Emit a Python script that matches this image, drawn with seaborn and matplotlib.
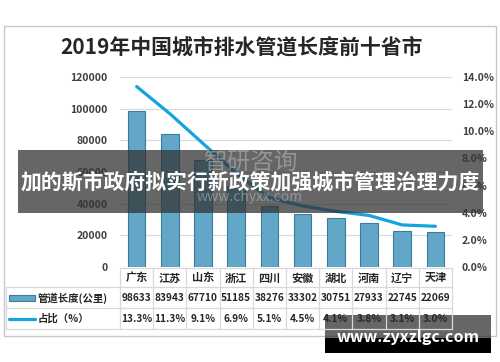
import matplotlib
matplotlib.use("Agg")
import matplotlib.pyplot as plt
import matplotlib.transforms as mtransforms
from matplotlib.lines import Line2D
from matplotlib.patches import Rectangle
import seaborn as sns

# --- Data ---
provinces = ['广东', '江苏', '山东', '浙江', '四川', '安徽', '湖北', '河南', '辽宁', '天津']
pipe_length = [98633, 83943, 67710, 51185, 38276, 33302, 30751, 27933, 22745, 22069]
share_pct = [13.3, 11.3, 9.1, 6.9, 5.1, 4.5, 4.1, 3.8, 3.1, 3.0]
left_ticks = [0, 20000, 40000, 60000, 80000, 100000, 120000]
right_ticks = [0, 2, 4, 6, 8, 10, 12, 14]

TITLE = '2019年中国城市排水管道长度前十省市'
BANNER = '加的斯市政府拟实行新政策加强城市管理治理力度'
SITE = 'www.zyxzlgc.com'

# --- Style ---
W, H = 500, 362
BAR_COLOR = '#62a6c8'
BAR_EDGE = '#3d7d9c'
LINE_COLOR = '#13a4de'
GRID = '#d9d9d9'
TXT = '#404040'

sns.set_theme(style='white')
plt.rcParams['font.family'] = ['Noto Sans CJK SC', 'DejaVu Sans']


def fx(px):
    return px / W


def fy(py):
    return 1 - py / H


fig = plt.figure(figsize=(W / 100, H / 100), dpi=100)
fig.patch.set_facecolor('white')

# outer frame
fig.add_artist(Rectangle((fx(4), fy(336)), fx(492), (336 - 26) / H, transform=fig.transFigure,
                         fill=False, edgecolor='#c8c8c8', lw=1.0))

ax = fig.add_axes([fx(120), fy(267), fx(332), (267 - 77) / H])
sns.barplot(x=list(range(len(provinces))), y=pipe_length, color=BAR_COLOR, width=0.53,
            edgecolor=BAR_EDGE, linewidth=0.8, saturation=1, ax=ax)
ax.set_xlim(-0.5, len(provinces) - 0.5)
ax.set_ylim(0, 120000)
ax.set_yticks(left_ticks)
ax.set_yticklabels([str(v) for v in left_ticks], fontsize=7.5, color=TXT, fontweight='bold')
ax.set_xticks([])
ax.set_xlabel('')
ax.set_ylabel('')
ax.yaxis.grid(True, color=GRID, lw=0.8)
ax.set_axisbelow(True)
ax.tick_params(axis='y', length=0, pad=9)
for s in ax.spines.values():
    s.set_visible(False)

ax2 = ax.twinx()
sns.lineplot(x=list(range(len(provinces))), y=share_pct, color=LINE_COLOR, lw=2.3, ax=ax2)
ax2.set_xlim(-0.5, len(provinces) - 0.5)
ax2.set_ylim(0, 14)
ax2.set_yticks(right_ticks)
ax2.set_yticklabels([f'{v:.1f}%' for v in right_ticks], fontsize=7.5, color=TXT, fontweight='bold')
ax2.tick_params(axis='y', length=0, pad=7)
ax2.set_ylabel('')
for s in ax2.spines.values():
    s.set_visible(False)

fig.text(fx(242), fy(47), TITLE, ha='center', va='center', fontsize=15, fontweight='bold', color='#262626')

# faint source watermark inside plot
fig.text(fx(250), fy(163), '智研咨询', ha='center', va='center', fontsize=17, color='#b8c4cc', alpha=0.5)
fig.text(fx(250), fy(197), 'www.chyxx.com', ha='center', va='center', fontsize=10, color='#b8c4cc', alpha=0.5)

# --- Data table under the plot ---
blend = mtransforms.blended_transform_factory(ax.transData, fig.transFigure)
n = len(provinces)
row_y = [268, 287, 308, 329]
for py in row_y[1:]:
    fig.add_artist(Line2D([fx(6), fx(452)], [fy(py), fy(py)], transform=fig.transFigure, color=GRID, lw=0.9))
fig.add_artist(Line2D([fx(120), fx(452)], [fy(row_y[0]), fy(row_y[0])], transform=fig.transFigure,
                      color=GRID, lw=0.9))
fig.add_artist(Line2D([fx(6), fx(6)], [fy(287), fy(329)], transform=fig.transFigure, color=GRID, lw=0.9))
for i in range(n + 1):
    fig.add_artist(Line2D([i - 0.5, i - 0.5], [fy(268), fy(329)], transform=blend, color=GRID, lw=0.9))

for i in range(n):
    fig.text(i, fy(278), provinces[i], transform=blend, ha='center', va='center',
             fontsize=8, fontweight='bold', color='#262626')
    fig.text(i, fy(298), str(pipe_length[i]), transform=blend, ha='center', va='center',
             fontsize=7.3, fontweight='bold', color='#262626')
    fig.text(i, fy(318.5), f'{share_pct[i]:.1f}%', transform=blend, ha='center', va='center',
             fontsize=7.3, fontweight='bold', color='#262626')

fig.add_artist(Rectangle((fx(9), fy(301)), fx(26), 6 / H, transform=fig.transFigure,
                         facecolor=BAR_COLOR, edgecolor=BAR_EDGE, lw=0.8))
fig.add_artist(Line2D([fx(9), fx(35)], [fy(318.5), fy(318.5)], transform=fig.transFigure,
                      color=LINE_COLOR, lw=2.3, solid_capstyle='round'))
fig.text(fx(38), fy(298), '管道长度(公里)', ha='left', va='center', fontsize=7.5, fontweight='bold', color='#262626')
fig.text(fx(38), fy(318.5), '占比（%）', ha='left', va='center', fontsize=7.5, fontweight='bold', color='#262626')

# --- Overlays ---
fig.add_artist(Rectangle((fx(18), fy(213)), fx(465), 63 / H, transform=fig.transFigure,
                         facecolor='#333333', alpha=0.75, edgecolor='none'))
fig.text(fx(250), fy(182), BANNER, ha='center', va='center', fontsize=15, fontweight='bold', color='white')

fig.add_artist(Rectangle((fx(325), fy(338)), fx(166), 23 / H, transform=fig.transFigure,
                         facecolor='#333333', alpha=0.75, edgecolor='none'))
fig.add_artist(Rectangle((fx(325), fy(353)), fx(166), 15 / H, transform=fig.transFigure,
                         facecolor='black', edgecolor='none'))
fig.text(fx(408), fy(337), SITE, ha='center', va='center', fontsize=11.5, fontweight='bold', color='white')

fig.savefig('out.png', dpi=100, facecolor='white')
